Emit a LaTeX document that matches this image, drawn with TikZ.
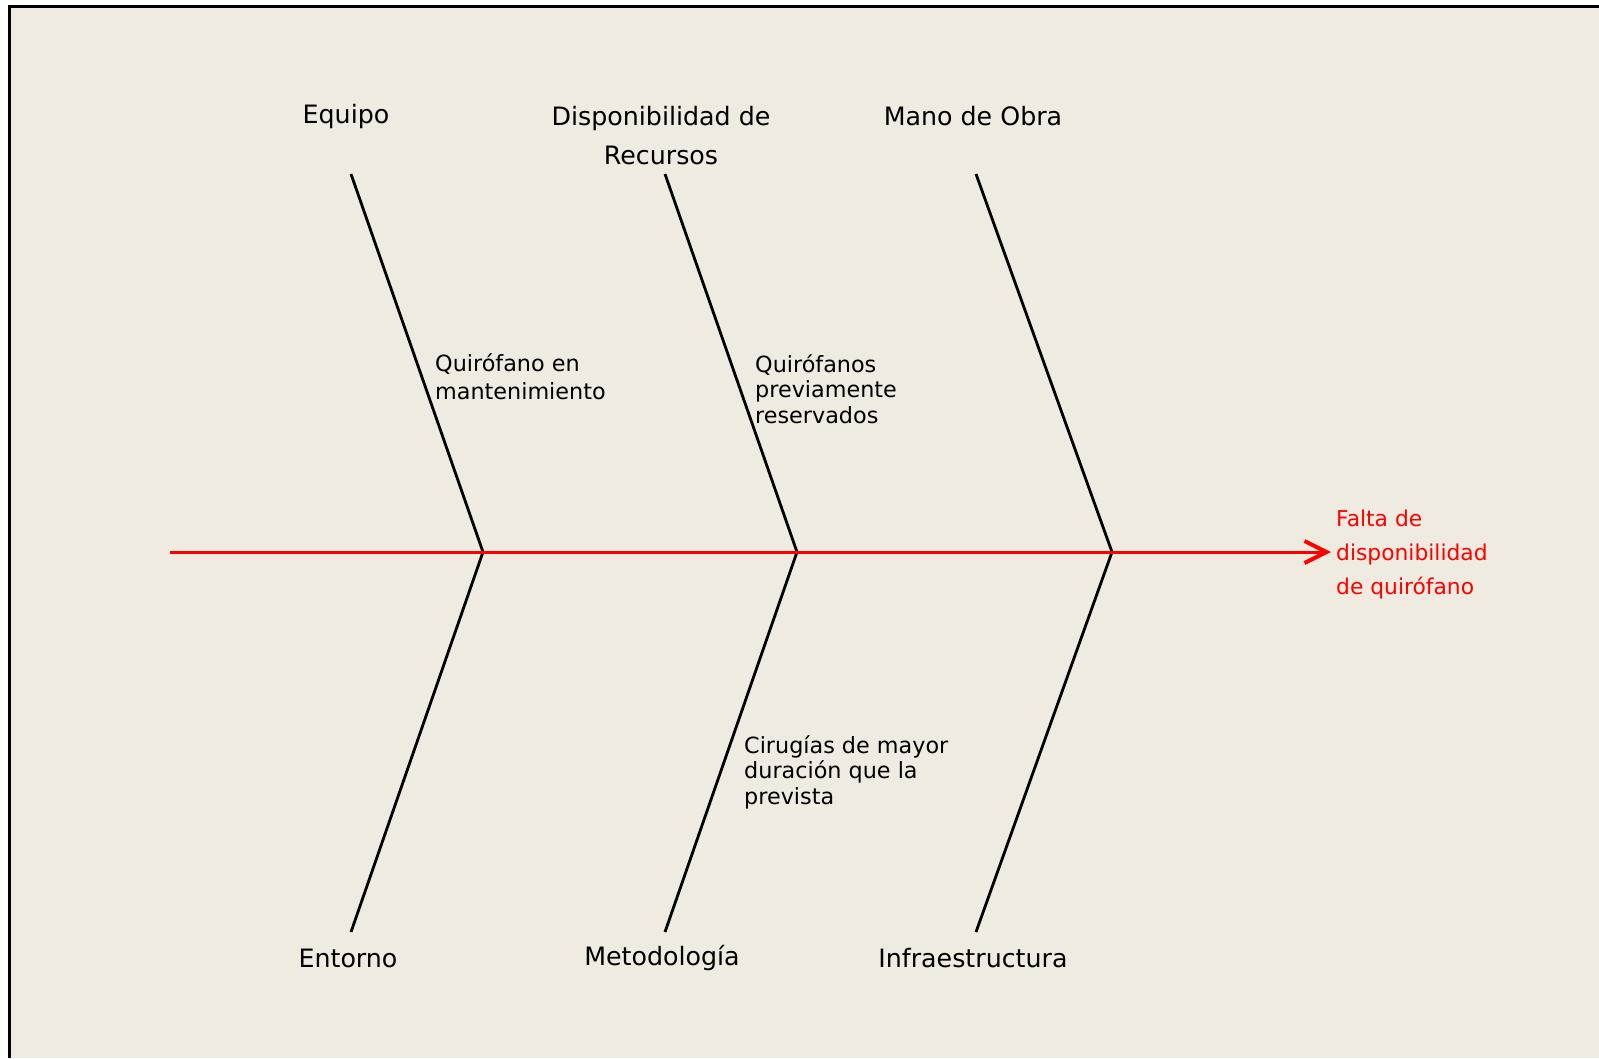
\documentclass[tikz,border=0pt]{standalone}
\usepackage{fontspec}
\setmainfont{DejaVu Sans}
\usetikzlibrary{arrows.meta}
\definecolor{paper}{RGB}{239,235,224}
\begin{document}
\begin{tikzpicture}[x=1pt,y=-1pt,
  bone/.style={draw=black,line width=2.8pt},
  spine/.style={draw=red,line width=3pt,-{Straight Barb[length=22pt,width=22pt,line width=4pt]}},
  cat/.style={font=\fontsize{25.3}{39}\selectfont,align=center,inner sep=0pt},
  cause/.style={font=\fontsize{22.3}{25.5}\selectfont,align=left,inner sep=0pt,anchor=north west},
  effect/.style={font=\fontsize{21.8}{34}\selectfont,align=left,inner sep=0pt,anchor=west,text=red}]
  % page and frame
  \useasboundingbox (0,0) rectangle (1599,1058);
  \fill[white] (0,0) rectangle (1599,1058);
  \fill[paper] (9.5,6) rectangle (1599,1058);
  \draw[line width=3pt,black] (9.5,1058) -- (9.5,6) -- (1599,6);

  % spine points
  \coordinate (tail) at (170,552);
  \coordinate (j1) at (483,552);
  \coordinate (j2) at (797,552);
  \coordinate (j3) at (1112,552);
  \coordinate (head) at (1331,552);

  % bone ends
  \coordinate (t1) at (351,174);
  \coordinate (t2) at (665,174);
  \coordinate (t3) at (976,174);
  \coordinate (b1) at (351,932);
  \coordinate (b2) at (665,932);
  \coordinate (b3) at (976,932);

  \draw[bone] (t1) -- (j1) -- (b1);
  \draw[bone] (t2) -- (j2) -- (b2);
  \draw[bone] (t3) -- (j3) -- (b3);
  \draw[spine] (tail) -- (head);

  % category labels
  \node[cat] (equipo) at (346,117) {Equipo};
  \node[cat] (recursos) at (661,136) {Disponibilidad de\\Recursos};
  \node[cat] (obra) at (973,116) {Mano de Obra};
  \node[cat] (entorno) at (348,958) {Entorno};
  \node[cat] (metodo) at (662,958) {Metodología};
  \node[cat] (infra) at (973,958) {Infraestructura};

  % causes
  \node[cause,font=\fontsize{22.3}{28.5}\selectfont] (c1) at (435,353) {Quirófano en\\mantenimiento};
  \node[cause] (c2) at (755,354) {Quirófanos\\previamente\\reservados};
  \node[cause] (c3) at (744,735) {Cirugías de mayor\\duración que la\\prevista};

  % effect
  \node[effect] (effect) at (1336,554) {Falta de\\disponibilidad\\de quirófano};
\end{tikzpicture}
\end{document}
